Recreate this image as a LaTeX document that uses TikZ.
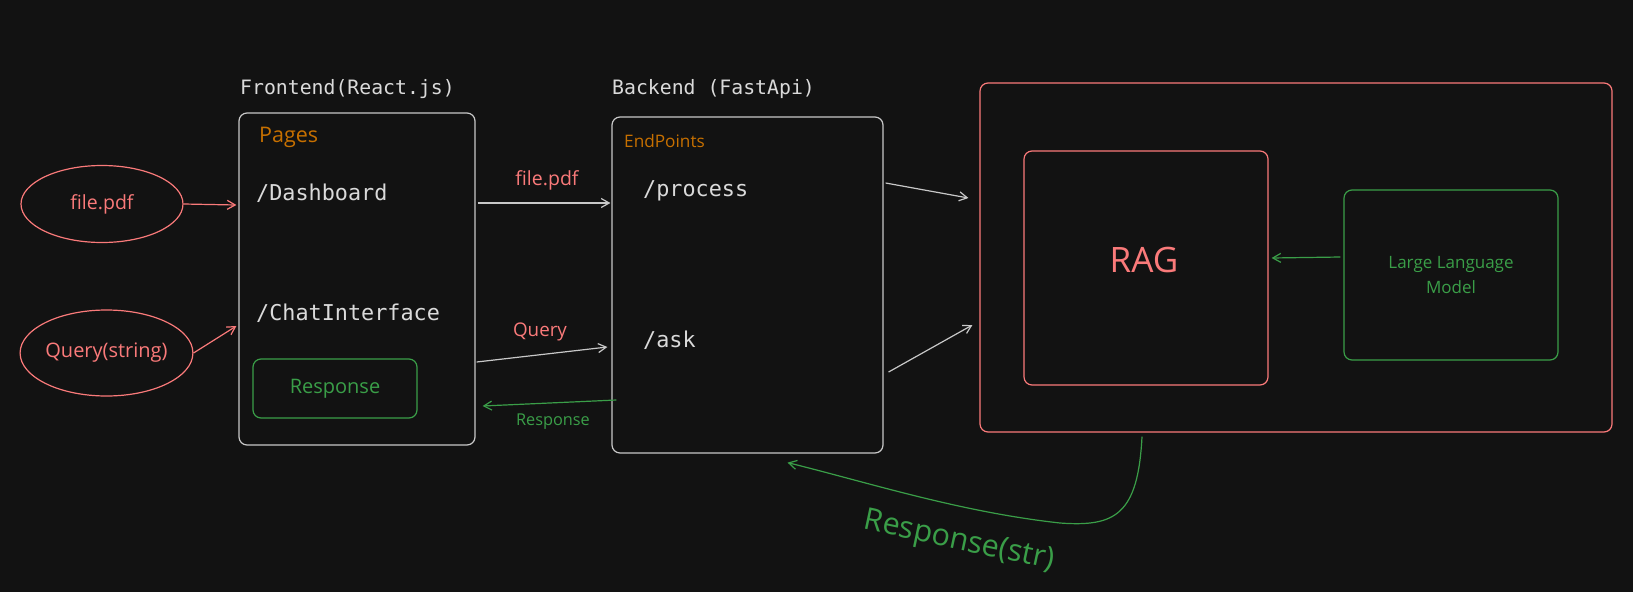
\documentclass[tikz,border=0pt]{standalone}
\usepackage{fontspec}
\setmainfont{Open Sans}
\newfontfamily\monofont{DejaVu Sans Mono}
\usetikzlibrary{shapes.geometric,arrows.meta,calc}
\definecolor{bgc}{HTML}{121212}
\definecolor{lightline}{RGB}{200,200,200}
\definecolor{lighttext}{RGB}{218,218,218}
\definecolor{redc}{RGB}{250,122,122}
\definecolor{greenc}{RGB}{58,158,72}
\definecolor{orangec}{RGB}{199,112,0}
\begin{document}
\begin{tikzpicture}[x=1pt,y=-1pt,
  box/.style={draw=#1, rounded corners=8pt, line width=1.2pt, inner sep=0pt},
  oval/.style={ellipse, draw=redc, line width=1.2pt, inner sep=0pt},
  monotitle/.style={anchor=west, inner sep=0pt, text=lighttext, font=\monofont\fontsize{19.8}{24}\selectfont},
  monoitem/.style={anchor=west, inner sep=0pt, text=lighttext, font=\monofont\fontsize{21.8}{26}\selectfont},
  hand/.style={inner sep=0pt, font=\fontsize{#1}{#1}\selectfont},
  arr/.style={-{Straight Barb[length=8pt,width=9pt]}, line width=1.2pt}]
\fill[bgc] (0,0) rectangle (1633,592);
\useasboundingbox (0,0) rectangle (1633,592);

% boxes
\node[box=lightline, minimum width=236pt, minimum height=332pt] (front) at (357,279) {};
\node[box=lightline, minimum width=271pt, minimum height=336pt] (back) at (747.5,285) {};
\node[box=redc, minimum width=632pt, minimum height=349pt] (outer) at (1296,257.5) {};
\node[box=redc, minimum width=244pt, minimum height=234pt] (rag) at (1146,268) {};
\node[box=greenc, minimum width=214pt, minimum height=170pt, text=greenc, align=center,
      font=\fontsize{17}{25}\selectfont] (llm) at (1451,275) {Large Language\\Model};
\node[box=greenc, minimum width=164pt, minimum height=59pt, text=greenc,
      font=\fontsize{20}{24}\selectfont] (resp) at (335,388.5) {Response};

% ellipses
\node[oval, minimum width=162pt, minimum height=77pt, text=redc,
      font=\fontsize{19.5}{24}\selectfont] (file) at (102,204) {file.pdf};
\node[oval, minimum width=161pt, minimum height=86pt, text=redc,
      font=\fontsize{20}{24}\selectfont] (query) at (106.5,353) {Query(string)};

% titles and items
\node[monotitle] (ftitle) at (240,89) {Frontend(React.js)};
\node[monotitle] (btitle) at (612,89) {Backend (FastApi)};
\node[anchor=west, inner sep=0pt, text=orangec, font=\fontsize{21.5}{24}\selectfont] (pages) at (259,137) {Pages};
\node[anchor=west, inner sep=0pt, text=orangec, font=\fontsize{17.2}{20}\selectfont] (endp) at (624,141) {EndPoints};
\node[monoitem] (dash) at (256,193) {/Dashboard};
\node[monoitem] (chat) at (256,313) {/ChatInterface};
\node[monoitem] (proc) at (643,191) {/process};
\node[monoitem] (ask) at (643,340) {/ask};
\node[inner sep=0pt, text=redc, font=\fontsize{35}{40}\selectfont] (ragt) at (1144,260) {RAG};

% connector labels
\node[hand=19.5, text=redc] (lfile) at (547,180) {file.pdf};
\node[hand=18.8, text=redc] (lquery) at (540,332) {Query};
\node[hand=16.3, text=greenc] (lresp) at (553,422) {Response};
\node[hand=30.5, text=greenc, rotate=-12] (lresps) at (959,542) {Response(str)};

% connectors
\draw[arr, redc] (file.east) -- ($(front.west)+(-2,-74)$);
\draw[arr, redc] (query.east) -- ($(front.west)+(-2,47)$);
\draw[arr, lightline] ($(front.east)+(2,-76)$) -- ($(back.west)+(-1,-82)$);
\draw[arr, lightline] ($(front.east)+(1,83)$) -- ($(back.west)+(-4,62)$);
\draw[arr, greenc] ($(back.west)+(5,115)$) -- ($(front.east)+(7,127)$);
\draw[arr, lightline] ($(back.east)+(2,-102)$) -- ($(outer.west)+(-11,-59.5)$);
\draw[arr, lightline] ($(back.east)+(5,87)$) -- ($(outer.west)+(-7,67.5)$);
\draw[arr, greenc] ($(llm.west)+(-3,-18)$) -- ($(rag.east)+(3,-10)$);
\draw[arr, greenc] ($(outer.south)+(-154,4)$) .. controls (1138,515) and (1115,527) .. (1060,523)
   .. controls (960,512) and (870,483) .. ($(back.south)+(40,9)$);
\end{tikzpicture}
\end{document}
